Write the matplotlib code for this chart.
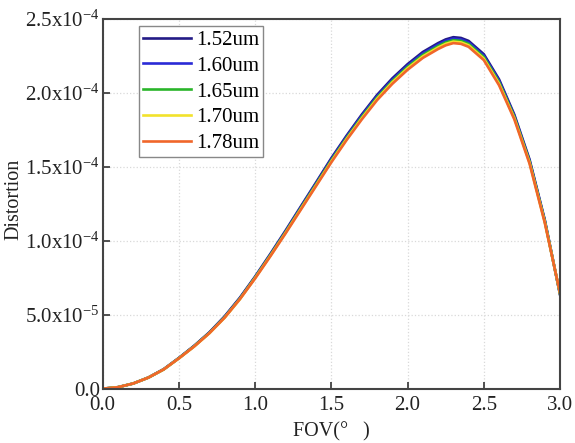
import matplotlib
matplotlib.use("Agg")
import matplotlib.pyplot as plt
from matplotlib.ticker import FixedLocator, FixedFormatter

plt.rcParams['font.family'] = ['Liberation Serif', 'DejaVu Serif']
plt.rcParams['mathtext.fontset'] = 'custom'
plt.rcParams['mathtext.rm'] = 'Liberation Serif'
plt.rcParams['mathtext.default'] = 'regular'

# FOV in degrees
fov = [0.0, 0.1, 0.2, 0.3, 0.4, 0.5, 0.6, 0.7, 0.8, 0.9, 1.0, 1.1, 1.2, 1.3, 1.4,
       1.5, 1.6, 1.7, 1.8, 1.9, 2.0, 2.1, 2.2, 2.25, 2.3, 2.35, 2.4,
       2.5, 2.6, 2.7, 2.8, 2.9, 3.0]

# distortion, in units of 1e-4
d152 = [0, 0.01, 0.035, 0.076, 0.132, 0.208, 0.29, 0.381, 0.489, 0.615, 0.758, 0.911,
        1.069, 1.232, 1.394, 1.558, 1.71, 1.853, 1.985, 2.097, 2.193, 2.275, 2.335,
        2.36, 2.375, 2.37, 2.35, 2.26, 2.09, 1.852, 1.548, 1.14, 0.635]
d160 = [0, 0.01, 0.035, 0.075, 0.131, 0.207, 0.288, 0.379, 0.486, 0.611, 0.754, 0.906,
        1.063, 1.226, 1.387, 1.55, 1.702, 1.845, 1.976, 2.087, 2.183, 2.265, 2.325,
        2.35, 2.365, 2.36, 2.34, 2.25, 2.08, 1.844, 1.541, 1.135, 0.638]
d165 = [0, 0.01, 0.035, 0.075, 0.13, 0.206, 0.287, 0.377, 0.483, 0.608, 0.751, 0.902,
        1.058, 1.22, 1.381, 1.543, 1.694, 1.836, 1.967, 2.078, 2.174, 2.255, 2.315,
        2.34, 2.355, 2.35, 2.33, 2.24, 2.07, 1.836, 1.534, 1.13, 0.64]
d170 = [0, 0.01, 0.035, 0.075, 0.13, 0.205, 0.285, 0.375, 0.48, 0.605, 0.748, 0.898,
        1.054, 1.215, 1.375, 1.536, 1.687, 1.828, 1.959, 2.07, 2.165, 2.245, 2.305,
        2.33, 2.345, 2.34, 2.32, 2.23, 2.06, 1.828, 1.527, 1.125, 0.643]
d178 = [0, 0.01, 0.035, 0.075, 0.13, 0.205, 0.285, 0.375, 0.48, 0.605, 0.745, 0.895,
        1.05, 1.21, 1.37, 1.53, 1.68, 1.82, 1.95, 2.06, 2.155, 2.235, 2.295,
        2.32, 2.335, 2.33, 2.31, 2.22, 2.05, 1.82, 1.52, 1.12, 0.645]

labels = ['1.52um', '1.60um', '1.65um', '1.70um', '1.78um']
colors = ['#231a86', '#2a2ad6', '#2ab52a', '#f2e22c', '#f0662a']

yticks = [0, 0.5e-4, 1.0e-4, 1.5e-4, 2.0e-4, 2.5e-4]
ytick_labels = ['0.0', r'5.0x10$^{-5}$', r'1.0x10$^{-4}$', r'1.5x10$^{-4}$',
                r'2.0x10$^{-4}$', r'2.5x10$^{-4}$']

fig = plt.figure(figsize=(5.75, 4.43), dpi=100)
ax = fig.add_axes([0.1786, 0.1226, 0.7954, 0.8352])

for d, lab, c in zip([d152, d160, d165, d170, d178], labels, colors):
    ax.plot(fov, [v * 1e-4 for v in d], color=c, lw=1.9, label=lab)

ax.set_xlim(0, 3.0)
ax.set_ylim(0, 2.5e-4)
ax.set_xticks([0, 0.5, 1.0, 1.5, 2.0, 2.5, 3.0])
ax.set_xticklabels(['0.0', '0.5', '1.0', '1.5', '2.0', '2.5', '3.0'])
ax.yaxis.set_major_locator(FixedLocator(yticks))
ax.yaxis.set_major_formatter(FixedFormatter(ytick_labels))

ax.tick_params(direction='in', length=5, width=1.2, labelsize=15, colors='#333333',
               labelcolor='#222222', top=False, right=False)
ax.tick_params(axis='x', pad=5.5)
ax.tick_params(axis='y', pad=2)
ax.grid(True, color='#d9d9d9', linestyle=':', linewidth=0.9)
for s in ax.spines.values():
    s.set_color('#444444')
    s.set_linewidth(1.5)

ax.set_xlabel('FOV(°   )', fontsize=14.5, color='#222222', labelpad=5)
ax.set_ylabel('Distortion', fontsize=14.5, color='#222222', labelpad=1)
ax.yaxis.label.set_y(0.513)

leg = ax.legend(loc='upper left', bbox_to_anchor=(0.079, 0.98), borderaxespad=0,
                fontsize=15, fancybox=False, edgecolor='#888888', framealpha=1,
                handlelength=2.3, handletextpad=0.25, labelspacing=0.3,
                borderpad=0.2)
leg.get_frame().set_linewidth(1.0)

fig.savefig('out.png', dpi=100)
